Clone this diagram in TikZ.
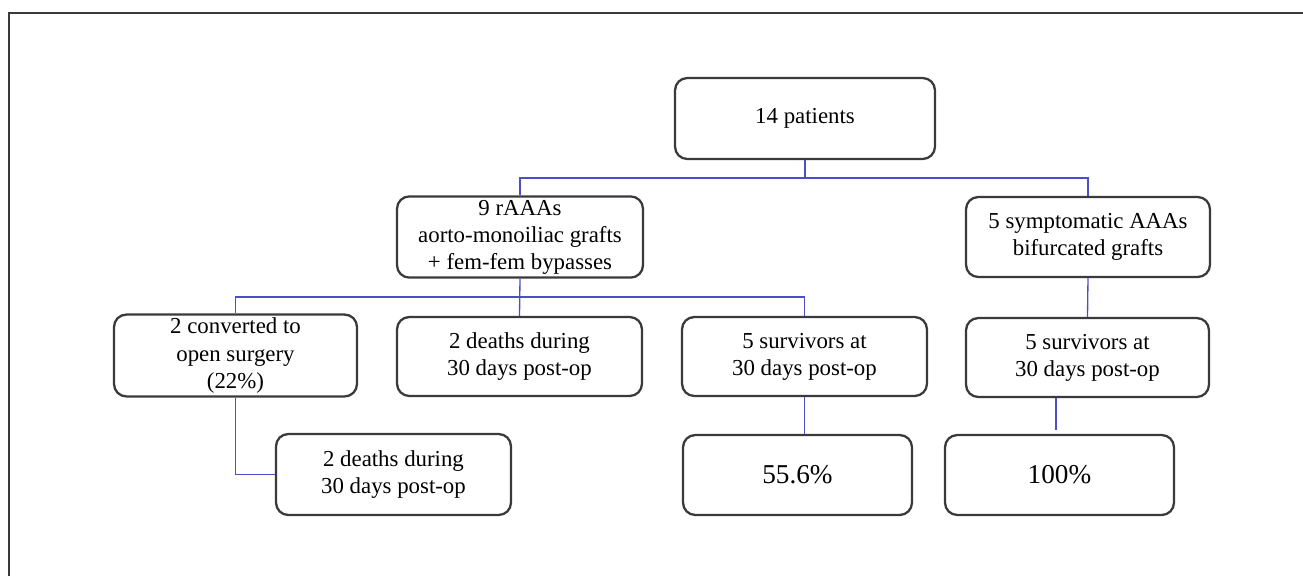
\documentclass[tikz,border=0pt]{standalone}
\usepackage{fontspec}
\setmainfont{Liberation Serif}
\usetikzlibrary{positioning, calc}
\definecolor{boxgray}{RGB}{58,58,58}
\definecolor{linkblue}{RGB}{78,78,196}
\tikzset{
  flowbox/.style={draw=boxgray, line width=1.3pt, rounded corners=7pt, align=center, inner sep=2pt,
    minimum height=1.6cm, font=\fontsize{13}{15.4}\selectfont},
  pctbox/.style={flowbox, font=\fontsize{15.5}{18}\selectfont},
  link/.style={draw=linkblue, line width=0.75pt}
}

\begin{document}
\begin{tikzpicture}[x=0.02cm, y=-0.02cm]
  \useasboundingbox (0,0) rectangle (1303,576);
  % page frame (top and left edges only)
  \draw[boxgray, line width=1.1pt] (9,576) -- (9,13) -- (1303,13);

  % boxes
  \node[flowbox, minimum width=5.2cm, minimum height=1.62cm] (pat) at (805,118.5) {14 patients};
  \node[flowbox, minimum width=4.92cm] (raaa) at (520,237) {9 rAAAs\\aorto-monoiliac grafts\\+ fem-fem bypasses};
  \node[flowbox, minimum width=4.88cm] (symp) at (1088,237) {5 symptomatic AAAs\\bifurcated grafts};
  \node[flowbox, minimum width=4.86cm, minimum height=1.58cm] (conv) at (235.5,355.5) {2 converted to\\open surgery\\(22\%)};
  \node[flowbox, minimum width=4.9cm, minimum height=1.58cm] (dmid) at (519.5,356.5) {2 deaths during\\30 days post-op};
  \node[flowbox, minimum width=4.9cm, minimum height=1.58cm] (survl) at (804.5,356.5) {5 survivors at\\30 days post-op};
  \node[flowbox, minimum width=4.86cm, minimum height=1.58cm] (survr) at (1087.5,357.5) {5 survivors at\\30 days post-op};
  \node[flowbox, minimum width=4.7cm, minimum height=1.62cm] (dlow) at (393.5,474.5) {2 deaths during\\30 days post-op};
  \node[pctbox, minimum width=4.58cm] (p556) at (797.5,475) {55.6\%};
  \node[pctbox, minimum width=4.58cm] (p100) at (1059.5,475) {100\%};

  % connectors
  \coordinate (tbus) at (805,178);
  \coordinate (mbus) at (520,297);
  \coordinate (rend) at (1056,430);
  \draw[link] (pat.south) -- (tbus);
  \draw[link] (raaa.north) |- (tbus) -| (symp.north);
  \draw[link] (raaa.south) -- (dmid.north);
  \draw[link] (conv.north) |- (mbus) -| (survl.north);
  \draw[link] (conv.south) |- (dlow.west);
  \draw[link] (survl.south) -- (survl.south |- p556.north);
  \draw[link] (symp.south) -- (survr.north);
  \draw[link] (survr.south -| rend) -- (rend);
\end{tikzpicture}
\end{document}
